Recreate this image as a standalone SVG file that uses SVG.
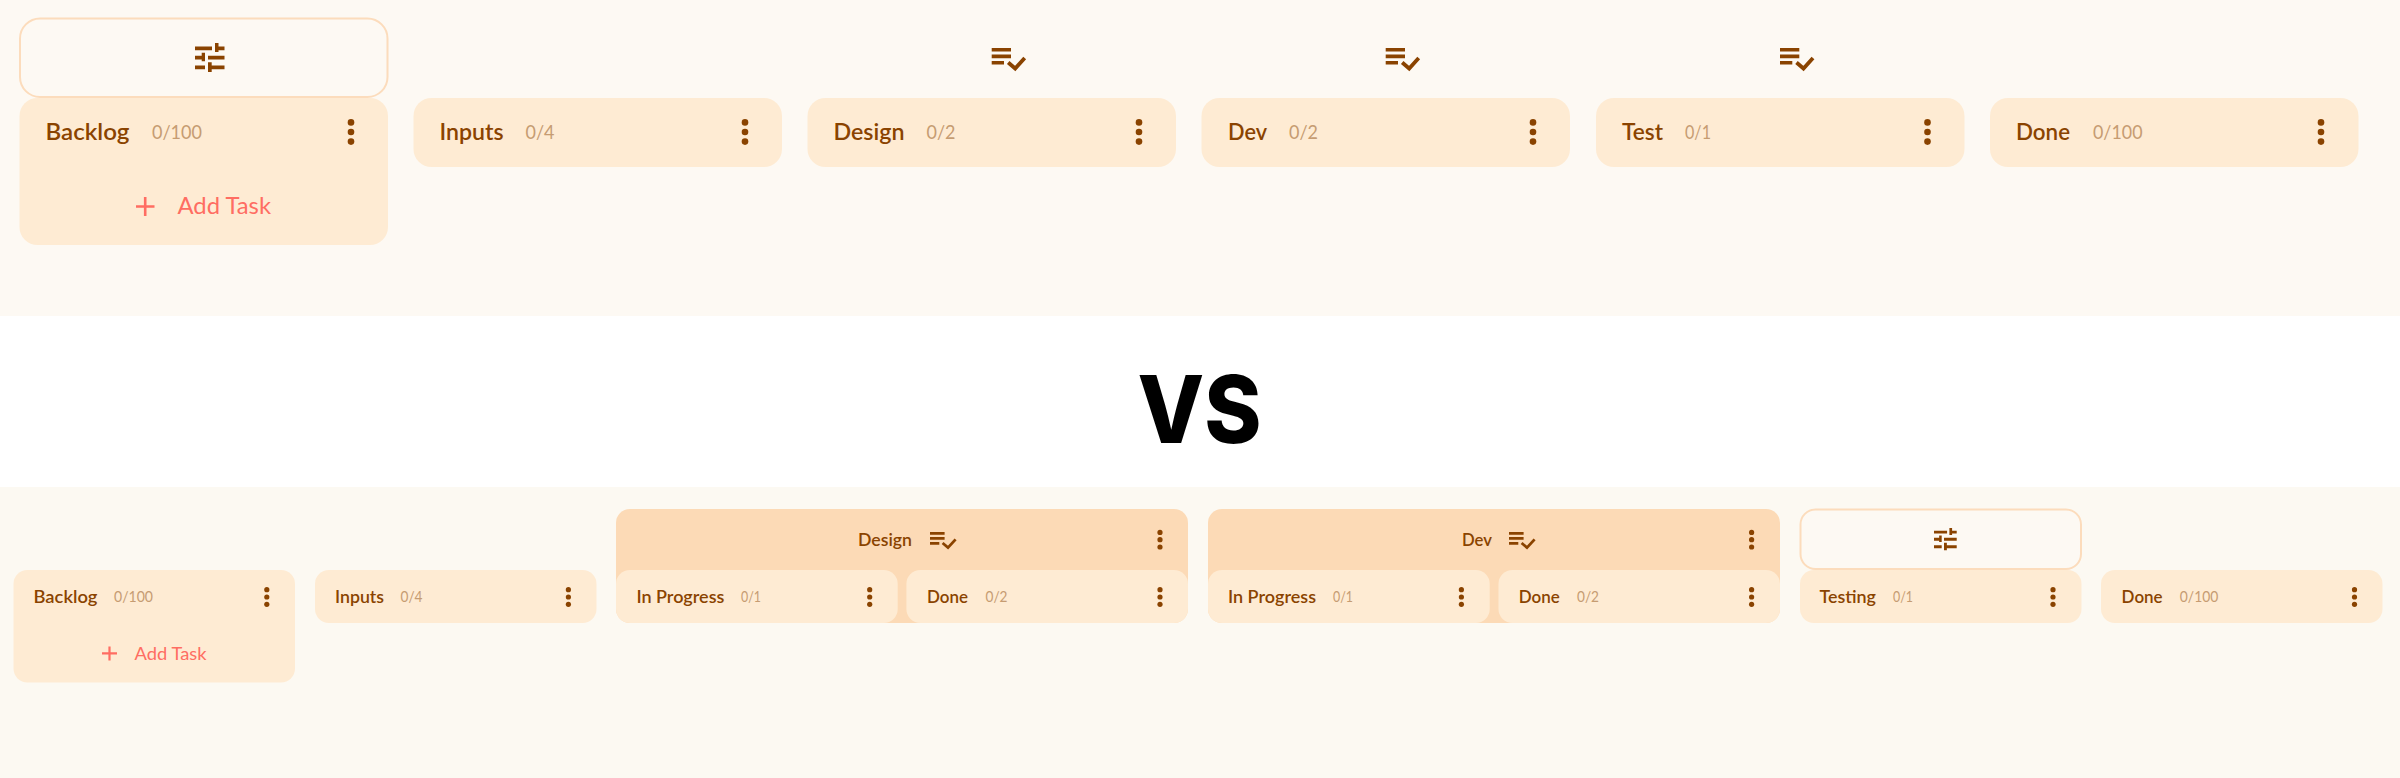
<svg xmlns="http://www.w3.org/2000/svg" width="2400" height="778" viewBox="0 0 2400 778">
<style>
text{font-family:"Lato","Noto Sans",sans-serif}
.card{fill:#feebd3}
.out{fill:#fdf9f3;stroke:#fcdcbc;stroke-width:2}
.grp{fill:#fcdab6}
.n1{font-size:23px;font-weight:600;fill:#8a4300}
.c1{font-size:19px;fill:#c69c72}
.a1{font-size:23px;fill:#ff6d62}
.n2{font-size:17.500px;font-weight:600;fill:#8a4300}
.c2{font-size:14.500px;fill:#c69c72}
.a2{font-size:17.500px;fill:#ff6d62}
.ic{fill:#8a4300}
.ck{fill:none;stroke:#8a4300;stroke-width:3.8}
</style>
<defs>
<g id="dots1"><circle class="ic" cy="-9.6" r="3.3"/><circle class="ic" r="3.3"/><circle class="ic" cy="9.6" r="3.3"/></g>
<g id="dots2"><circle class="ic" cy="-7.3" r="2.6"/><circle class="ic" r="2.6"/><circle class="ic" cy="7.3" r="2.6"/></g>
<g id="tune"><path class="ic" d="M0 3.500H17V7.300H0ZM20 0H23.500V3.500H29.500V7.300H23.500V9H20ZM0 12.800H6.700V9.700H10V18.300H6.700V16.600H0ZM13 12.800H29.500V16.600H13ZM0 22.500H10V26.300H0ZM13 19.300H16.700V22.500H29.500V26.300H16.700V29H13Z"/></g>
<g id="check1"><path class="ic" d="M0 0H19.300V3.600H0ZM0 6.600H19.300V10.200H0ZM0 13H12.300V16.400H0Z"/><path class="ck" d="M16.500 14.500L23.500 20.500L33 10"/></g>
<g id="check2"><path class="ic" d="M0 0H14.600V2.800H0ZM0 5H14.600V7.800H0ZM0 10H9.300V12.800H0Z"/><path class="ck" style="stroke-width:2.800" d="M12.600 11L18 15.600L25.600 7.400"/></g>
</defs>
<rect width="2400" height="316" fill="#fdf9f3"/>
<rect y="487" width="2400" height="291" fill="#fcf9f2"/>
<g id="top-backlog">
<rect class="out" x="20" y="18.500" width="367.500" height="78.500" rx="20"/>
<use href="#tune" x="195" y="43"/>
<rect class="card" x="19.500" y="98" width="368.500" height="147" rx="18"/>
<text class="n1" x="45.500" y="140" textLength="84" lengthAdjust="spacingAndGlyphs">Backlog</text><text class="c1" x="152" y="139" textLength="50" lengthAdjust="spacingAndGlyphs">0/100</text>
<use href="#dots1" x="351" y="132"/>
<path d="M136 206.500H154.500M145.200 197V216" stroke="#ff6d62" stroke-width="2.600" fill="none"/>
<text class="a1" x="177.500" y="214" textLength="93.500" lengthAdjust="spacingAndGlyphs">Add Task</text>
</g>
<g id="top-inputs">
<rect class="card" x="413.500" y="98" width="368.500" height="69" rx="18"/>
<text class="n1" x="439.500" y="140" textLength="64" lengthAdjust="spacingAndGlyphs">Inputs</text><text class="c1" x="525.500" y="139" textLength="29" lengthAdjust="spacingAndGlyphs">0/4</text>
<use href="#dots1" x="745" y="132"/>
</g>
<g id="top-design">
<use href="#check1" x="991.700" y="48"/>
<rect class="card" x="807.500" y="98" width="368.500" height="69" rx="18"/>
<text class="n1" x="833.500" y="140" textLength="71" lengthAdjust="spacingAndGlyphs">Design</text><text class="c1" x="926.500" y="139" textLength="29" lengthAdjust="spacingAndGlyphs">0/2</text>
<use href="#dots1" x="1139" y="132"/>
</g>
<g id="top-dev">
<use href="#check1" x="1385.700" y="48"/>
<rect class="card" x="1201.500" y="98" width="368.500" height="69" rx="18"/>
<text class="n1" x="1228" y="140" textLength="39" lengthAdjust="spacingAndGlyphs">Dev</text><text class="c1" x="1289" y="139" textLength="29" lengthAdjust="spacingAndGlyphs">0/2</text>
<use href="#dots1" x="1533" y="132"/>
</g>
<g id="top-test">
<use href="#check1" x="1780" y="48"/>
<rect class="card" x="1596" y="98" width="368.500" height="69" rx="18"/>
<text class="n1" x="1622" y="140" textLength="41" lengthAdjust="spacingAndGlyphs">Test</text><text class="c1" x="1685" y="139" textLength="26" lengthAdjust="spacingAndGlyphs">0/1</text>
<use href="#dots1" x="1927.500" y="132"/>
</g>
<g id="top-done">
<rect class="card" x="1990" y="98" width="368.500" height="69" rx="18"/>
<text class="n1" x="2016" y="140" textLength="54" lengthAdjust="spacingAndGlyphs">Done</text><text class="c1" x="2093" y="139" textLength="49.500" lengthAdjust="spacingAndGlyphs">0/100</text>
<use href="#dots1" x="2321" y="132"/>
</g>
<text id="vs" x="1137.500" y="443" font-size="94" font-weight="800" fill="#000" textLength="124" lengthAdjust="spacingAndGlyphs" style="font-family:Inter,'Liberation Sans',sans-serif">VS</text>
<g id="bottom-backlog">
<rect class="card" x="13.500" y="570" width="281.500" height="112.500" rx="14"/>
<text class="n2" x="33.500" y="603" textLength="64" lengthAdjust="spacingAndGlyphs">Backlog</text><text class="c2" x="114" y="602" textLength="39" lengthAdjust="spacingAndGlyphs">0/100</text>
<use href="#dots2" x="266.800" y="597"/>
<path d="M102 653.300H117M109.500 646.500V660.500" stroke="#ff6d62" stroke-width="2.200" fill="none"/>
<text class="a2" x="134.500" y="659.500" textLength="72" lengthAdjust="spacingAndGlyphs">Add Task</text>
</g>
<g id="bottom-inputs">
<rect class="card" x="315" y="570" width="281.500" height="53" rx="14"/>
<text class="n2" x="335" y="603" textLength="49" lengthAdjust="spacingAndGlyphs">Inputs</text><text class="c2" x="400.500" y="602" textLength="22" lengthAdjust="spacingAndGlyphs">0/4</text>
<use href="#dots2" x="568.400" y="597"/>
</g>
<g id="bottom-design">
<rect class="grp" x="616" y="509" width="572" height="114" rx="14"/>
<text class="n2" x="858" y="546" textLength="54" lengthAdjust="spacingAndGlyphs">Design</text>
<use href="#check2" x="930" y="532"/>
<use href="#dots2" x="1160" y="539.700"/>
<rect class="card" x="616" y="570" width="281.700" height="53" rx="14"/>
<text class="n2" x="636.400" y="603" textLength="88" lengthAdjust="spacingAndGlyphs">In Progress</text><text class="c2" x="741" y="602" textLength="20" lengthAdjust="spacingAndGlyphs">0/1</text>
<use href="#dots2" x="869.700" y="597"/>
<rect class="card" x="906.400" y="570" width="281.600" height="53" rx="14"/>
<text class="n2" x="927" y="603" textLength="41" lengthAdjust="spacingAndGlyphs">Done</text><text class="c2" x="985.500" y="602" textLength="22" lengthAdjust="spacingAndGlyphs">0/2</text>
<use href="#dots2" x="1160" y="597"/>
</g>
<g id="bottom-dev">
<rect class="grp" x="1208" y="509" width="572" height="114" rx="14"/>
<text class="n2" x="1462" y="546" textLength="30" lengthAdjust="spacingAndGlyphs">Dev</text>
<use href="#check2" x="1509" y="532"/>
<use href="#dots2" x="1751.600" y="539.700"/>
<rect class="card" x="1208" y="570" width="281.700" height="53" rx="14"/>
<text class="n2" x="1228" y="603" textLength="88" lengthAdjust="spacingAndGlyphs">In Progress</text><text class="c2" x="1333" y="602" textLength="20" lengthAdjust="spacingAndGlyphs">0/1</text>
<use href="#dots2" x="1461.400" y="597"/>
<rect class="card" x="1498.500" y="570" width="281.500" height="53" rx="14"/>
<text class="n2" x="1518.700" y="603" textLength="41" lengthAdjust="spacingAndGlyphs">Done</text><text class="c2" x="1577" y="602" textLength="22" lengthAdjust="spacingAndGlyphs">0/2</text>
<use href="#dots2" x="1751.600" y="597"/>
</g>
<g id="bottom-testing">
<rect class="out" x="1800.500" y="509.500" width="280.500" height="59.500" rx="15"/>
<use href="#tune" transform="translate(1934 528) scale(.77)"/>
<rect class="card" x="1800" y="570" width="281.500" height="53" rx="14"/>
<text class="n2" x="1819.500" y="603" textLength="56.500" lengthAdjust="spacingAndGlyphs">Testing</text><text class="c2" x="1893" y="602" textLength="20" lengthAdjust="spacingAndGlyphs">0/1</text>
<use href="#dots2" x="2053" y="597"/>
</g>
<g id="bottom-done">
<rect class="card" x="2101" y="570" width="281.500" height="53" rx="14"/>
<text class="n2" x="2121.600" y="603" textLength="41" lengthAdjust="spacingAndGlyphs">Done</text><text class="c2" x="2179.800" y="602" textLength="38.500" lengthAdjust="spacingAndGlyphs">0/100</text>
<use href="#dots2" x="2354.500" y="597"/>
</g>
</svg>
